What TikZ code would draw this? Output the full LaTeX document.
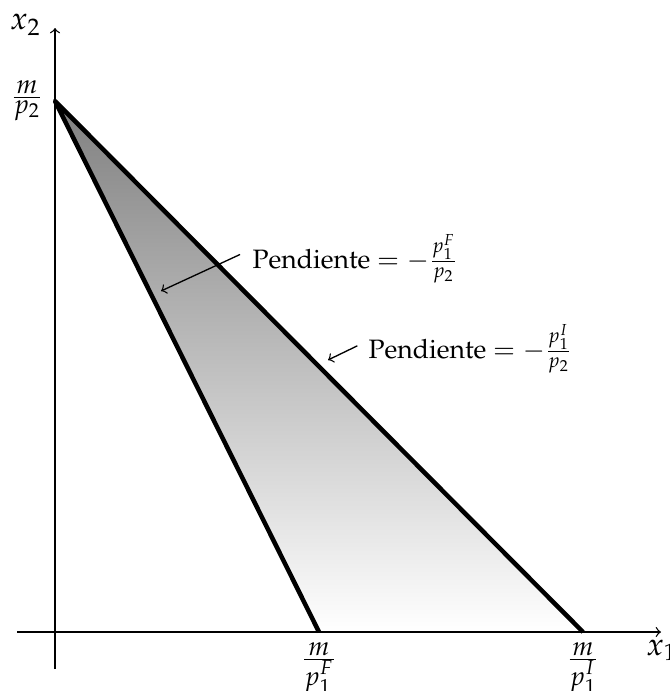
\documentclass[tikz,border=0pt]{standalone}
\usepackage[T1]{fontenc}
\usepackage{mathpazo}
\usepackage{amsmath}
\newcommand{\bigfr}[2]{\frac{\displaystyle #1}{\displaystyle #2}}
\begin{document}
\begin{tikzpicture}[x=0.376pt,y=-0.376pt,
  axis/.style={line width=0.5pt,->,>=to},
  budget/.style={line width=1.7pt},
  edge/.style={line width=1.1pt},
  lbl/.style={inner sep=0pt},
  pointer/.style={line width=0.5pt,->,>=to}]
\useasboundingbox (0,0) rectangle (670,691);
\coordinate (O) at (55,632);
\coordinate (A) at (55,101);
\coordinate (F) at (319,632);
\coordinate (I) at (583,632);
\coordinate (xs) at (17,632);
\coordinate (xe) at (661,632);
\coordinate (ys) at (55,669);
\coordinate (ye) at (55,28);
\shade[top color=black!50,bottom color=white] (A) -- (F) -- (I) -- cycle;
\draw[axis] (xs) -- (xe);
\draw[axis] (ys) -- (ye);
\draw[edge] (A) -- (O) -- (I);
\draw[budget,line join=round] (F) -- (A) -- (I);
\node[lbl,anchor=base] (lx2) at (25.5,30) {\large $x_2$};
\node[lbl,anchor=base west] (lx1) at (646,655) {\large $x_1$};
\node[lbl,anchor=base] (lmp2) at (27,104) {$\bigfr{m}{p_2}$};
\node[lbl,anchor=base] (lmF) at (319,666) {$\bigfr{m}{p_1^F}$};
\node[lbl,anchor=base] (lmI) at (583,666) {$\bigfr{m}{p_1^I}$};
\node[lbl,anchor=base west] (pF) at (252,268) {Pendiente $= -\frac{p_1^F}{p_2}$};
\node[lbl,anchor=base west] (pI) at (368,358) {Pendiente $= -\frac{p_1^I}{p_2}$};
\coordinate (tF) at (161,291);
\coordinate (tI) at (328,360);
\draw[pointer] ([xshift=-4.5pt,yshift=1.5pt]pF.west) -- (tF);
\draw[pointer] ([xshift=-4pt,yshift=1pt]pI.west) -- (tI);
\end{tikzpicture}
\end{document}
